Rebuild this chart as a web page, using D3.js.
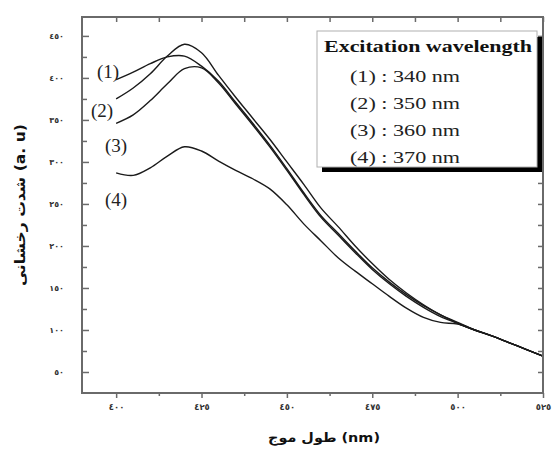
<!DOCTYPE html>
<html>
<head>
<meta charset="utf-8">
<script src="https://cdn.jsdelivr.net/npm/d3@7/dist/d3.min.js"></script>
<style>
  html, body { margin: 0; padding: 0; background: #fff; }
  svg { display: block; }
</style>
</head>
<body>
<svg id="chart" width="553" height="455"></svg>
<script>
// Emission wavelength (nm)
const wavelengths = [400,405,410,415,420,425,430,435,440,445,450,455,460,465,470,475,480,485,490,495,500,505,510,515,520,525];

// Photoluminescence intensity (a. u) for each excitation wavelength
const ex340 = [398,407,417,425,426,414,396,371,346,320,292,263,236,215,194,174,157,142,129,118,108,100,93,85,77,69];
const ex350 = [375,388,405,426,440,430,403,377,352,327,300,273,245,223,200,179,160,144,130,118,109,100,93,85,77,69];
const ex360 = [346,356,373,393,411,412,394,369,344,318,290,261,234,213,192,172,155,140,127,116,108,100,93,85,77,69];
const ex370 = [287,284,293,307,318,313,301,290,280,268,249,226,206,186,170,155,140,126,115,109,107,100,93,85,77,69];

const seriesValues = [ex340, ex350, ex360, ex370];
const seriesTags = ["(1)", "(2)", "(3)", "(4)"];
const legendTitle = "Excitation wavelength";
const legendEntries = ["(1) : 340 nm", "(2) : 350 nm", "(3) : 360 nm", "(4) : 370 nm"];

const xMajorTicks = [400,425,450,475,500,525];
const xMinorTicks = [412.5,437.5,462.5,487.5,512.5];
const yMajorTicks = [50,100,150,200,250,300,350,400,450];
const yMinorTicks = [75,125,175,225,275,325,375,425];

const xTitle = "طول موج (nm)";
const yTitle = "شدت رخشانی (a. u)";

// Arabic-Indic digits for tick labels
const indic = "٠١٢٣٤٥٦٧٨٩";
const toIndic = v => String(v).replace(/\d/g, c => indic[+c]);

const svg = d3.select("#chart");
const L = 82, R = 543, T = 17, B = 393;

const x = d3.scaleLinear().domain([390, 525]).range([L, R]);
const y = d3.scaleLinear().domain([25, 472.5]).range([B, T]);

const axisColor = "#6a6a6a";

// curves
const line = d3.line()
  .x((d, i) => x(wavelengths[i]))
  .y(d => y(d))
  .curve(d3.curveCatmullRom.alpha(0.5));

svg.append("g")
  .selectAll("path")
  .data(seriesValues)
  .join("path")
  .attr("d", d => line(d))
  .attr("fill", "none")
  .attr("stroke", "#1a1a1a")
  .attr("stroke-width", 1.4);

// axes
function styleAxis(g) {
  g.select(".domain").remove();
  g.selectAll(".tick line").attr("stroke", axisColor).attr("stroke-width", 1.5);
  g.selectAll("text")
    .attr("fill", "#333")
    .attr("font-family", "DejaVu Sans, sans-serif")
    .attr("font-weight", "bold");
}

// bottom: outward ticks with labels
svg.append("g").attr("transform", `translate(0,${B})`)
  .call(d3.axisBottom(x).tickValues(xMajorTicks).tickSize(5).tickPadding(6).tickFormat(toIndic))
  .call(styleAxis)
  .call(g => g.selectAll("text").attr("font-size", 8.5));
svg.append("g").attr("transform", `translate(0,${B})`)
  .call(d3.axisBottom(x).tickValues(xMinorTicks).tickSize(3).tickFormat(""))
  .call(styleAxis);

// left: inward ticks with labels
svg.append("g").attr("transform", `translate(${L},0)`)
  .call(d3.axisLeft(y).tickValues(yMajorTicks).tickSize(-7).tickPadding(18).tickFormat(toIndic))
  .call(styleAxis)
  .call(g => g.selectAll("text").attr("font-size", 8));
svg.append("g").attr("transform", `translate(${L},0)`)
  .call(d3.axisLeft(y).tickValues(yMinorTicks).tickSize(-5).tickFormat(""))
  .call(styleAxis);

// top: inward ticks
svg.append("g").attr("transform", `translate(0,${T})`)
  .call(d3.axisTop(x).tickValues(xMajorTicks.concat(xMinorTicks)).tickSize(-5).tickFormat(""))
  .call(styleAxis);

// right: inward ticks
svg.append("g").attr("transform", `translate(${R},0)`)
  .call(d3.axisRight(y).tickValues(yMajorTicks.concat(yMinorTicks)).tickSize(-5).tickFormat(""))
  .call(styleAxis);

// frame
svg.append("rect")
  .attr("x", L).attr("y", T).attr("width", R - L).attr("height", B - T)
  .attr("fill", "none").attr("stroke", axisColor).attr("stroke-width", 2);

// axis titles
svg.append("text")
  .attr("x", 324).attr("y", 442)
  .attr("text-anchor", "middle")
  .attr("font-family", "DejaVu Sans, sans-serif")
  .attr("font-weight", "bold")
  .attr("font-size", 13)
  .attr("textLength", 112).attr("lengthAdjust", "spacingAndGlyphs")
  .attr("fill", "#111")
  .text(xTitle);

svg.append("text")
  .attr("transform", "translate(25,205) rotate(-90)")
  .attr("text-anchor", "middle")
  .attr("font-family", "DejaVu Sans, sans-serif")
  .attr("font-weight", "bold")
  .attr("font-size", 14)
  .attr("textLength", 162).attr("lengthAdjust", "spacingAndGlyphs")
  .attr("fill", "#111")
  .text(yTitle);

// curve tags
const tagPos = [[97, 78], [91, 117], [105, 152], [105, 206]];
svg.append("g")
  .selectAll("text")
  .data(seriesTags)
  .join("text")
  .attr("x", (d, i) => tagPos[i][0])
  .attr("y", (d, i) => tagPos[i][1])
  .attr("font-family", "Liberation Serif, serif")
  .attr("font-size", 19)
  .attr("fill", "#222")
  .text(d => d);

// legend with drop shadow
const lg = svg.append("g");
lg.append("rect").attr("x", 322).attr("y", 37).attr("width", 220).attr("height", 135).attr("fill", "#000");
lg.append("rect").attr("x", 317).attr("y", 31).attr("width", 220).attr("height", 136)
  .attr("fill", "#fff").attr("stroke", "#b0b0b0").attr("stroke-width", 1);
lg.append("text")
  .attr("x", 324).attr("y", 52)
  .attr("font-family", "Liberation Serif, serif")
  .attr("font-weight", "bold")
  .attr("font-size", 17)
  .attr("textLength", 208).attr("lengthAdjust", "spacingAndGlyphs")
  .attr("fill", "#111")
  .text(legendTitle);
lg.selectAll("text.entry")
  .data(legendEntries)
  .join("text")
  .attr("class", "entry")
  .attr("x", 350)
  .attr("y", (d, i) => 82 + i * 27)
  .attr("font-family", "Liberation Serif, serif")
  .attr("font-size", 16)
  .attr("textLength", 110).attr("lengthAdjust", "spacingAndGlyphs")
  .attr("fill", "#222")
  .text(d => d);
</script>
</body>
</html>
